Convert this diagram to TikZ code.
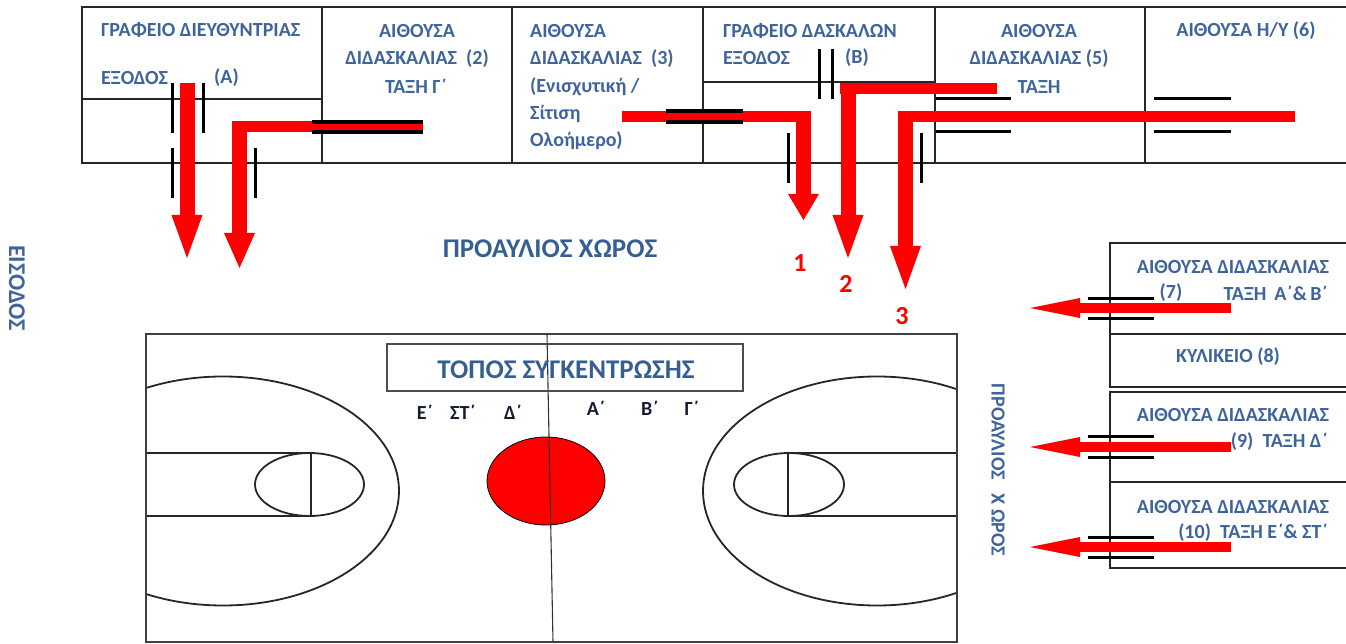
\documentclass[tikz,border=0pt]{standalone}
\usepackage{fontspec}
\setmainfont{Carlito}
\usetikzlibrary{arrows.meta}
\definecolor{labelblue}{RGB}{62,100,155}
\definecolor{headblue}{RGB}{54,95,145}
\definecolor{teamblack}{RGB}{20,30,50}
\tikzset{
	wall/.style={draw=black!85,line width=2pt},
	doorline/.style={black,line width=3pt},
	heavydoor/.style={black,line width=3.6pt},
	courtline/.style={draw=black!85,line width=1.8pt},
	roomtext/.style={inner sep=0pt,text=labelblue,font=\bfseries\fontsize{20}{22}\selectfont},
	bigtext/.style={inner sep=0pt,text=headblue,font=\bfseries\fontsize{27}{29}\selectfont},
	sidetext/.style={inner sep=0pt,text=labelblue,font=\bfseries\fontsize{24}{26}\selectfont},
	teamtext/.style={inner sep=0pt,text=teamblack,font=\bfseries\fontsize{20}{22}\selectfont},
	numtext/.style={inner sep=0pt,text=red,font=\bfseries\fontsize{26}{28}\selectfont},
	redbar/.style={red,line width=11pt},
	exitarrow/.style={red,line width=15pt,-{Triangle[length=#1,width=31pt,line width=0pt]}},
	exitarrow/.default=43pt,
	sidearrow/.style={red,line width=10pt,-{Triangle[length=50pt,width=20pt,line width=0pt]}},
}
\begin{document}
\begin{tikzpicture}[x=1pt,y=-1pt]
	\useasboundingbox (0,0) rectangle (1346,644);

	% top row of rooms
	\draw[wall] (1346,7) -- (82,7) -- (82,163) -- (1346,163);
	\draw[wall] (322,7) -- (322,163);
	\draw[wall] (512,7) -- (512,163);
	\draw[wall] (703,7) -- (703,163);
	\draw[wall] (935,7) -- (935,163);
	\draw[wall] (1145,7) -- (1145,163);
	\draw[wall] (82,99) -- (322,99);
	\draw[wall] (703,82) -- (935,82);

	% rooms on the right
	\draw[wall] (1346,243) -- (1110,243) -- (1110,387) -- (1346,387);
	\draw[wall] (1110,334) -- (1346,334);
	\draw[wall] (1346,392) -- (1110,392) -- (1110,568) -- (1346,568);
	\draw[wall] (1110,482) -- (1346,482);

	% court
	\begin{scope}
		\clip (146,334) rectangle (957,642);
		\draw[courtline] (223,491) ellipse [x radius=176,y radius=114.5];
		\draw[courtline] (877,491) ellipse [x radius=174,y radius=114.5];
	\end{scope}
	\draw[courtline] (146,453) -- (311,453) -- (311,516) -- (146,516);
	\draw[courtline] (309.5,484.5) ellipse [x radius=54.5,y radius=31.5];
	\draw[courtline] (957,453) -- (788,453) -- (788,516) -- (957,516);
	\draw[courtline] (789,484.5) ellipse [x radius=55,y radius=31.5];
	\draw[draw=black,fill=red,line width=0.8pt] (546,481) ellipse [x radius=59,y radius=44];
	\draw[draw=black!80,line width=1.1pt] (547,334) -- (553,642);
	\draw[draw=black!75,line width=2.2pt] (146,334) rectangle (957,642);
	\node[draw=black!70,line width=2.2pt,minimum width=356pt,minimum height=47pt,inner sep=0pt] (titlebox) at (565,367.5) {};

	% ends of the red routes
	\coordinate (startA) at (187,83);
	\coordinate (tipA) at (187,258);
	\coordinate (startC) at (423,127);
	\coordinate (bendC) at (232,127);
	\coordinate (topC) at (239.5,122);
	\coordinate (tipC) at (239.5,268);
	\coordinate (startR) at (622,116.5);
	\coordinate (bendR) at (796,116.5);
	\coordinate (topR) at (803.5,111);
	\coordinate (tipR) at (803.5,220);
	\coordinate (startT) at (997,88.5);
	\coordinate (bendT) at (840,88.5);
	\coordinate (topT) at (848,83);
	\coordinate (tipT) at (848,258);
	\coordinate (startH) at (1295,116.5);
	\coordinate (bendH) at (898,116.5);
	\coordinate (topH) at (905.5,111);
	\coordinate (tipH) at (905.5,289);
	\coordinate (startS) at (1231,308);
	\coordinate (tipS) at (1030,308);
	\coordinate (startN) at (1231,447);
	\coordinate (tipN) at (1030,447);
	\coordinate (startE) at (1231,547);
	\coordinate (tipE) at (1030,547);

	\path[exitarrow] (startA) edge (tipA);
	\path[redbar] (startC) edge (bendC);
	\path[exitarrow=35pt] (topC) edge (tipC);
	\path[redbar] (startR) edge (bendR);
	\path[exitarrow=26pt] (topR) edge (tipR);
	\path[redbar] (startT) edge (bendT);
	\path[exitarrow] (topT) edge (tipT);
	\path[redbar] (startH) edge (bendH);
	\path[exitarrow] (topH) edge (tipH);
	\path[sidearrow] (startS) edge (tipS);
	\path[sidearrow] (startN) edge (tipN);
	\path[sidearrow] (startE) edge (tipE);

	% door frames
	\draw[doorline] (172,83) -- (172,133);
	\draw[doorline] (203,83) -- (203,133);
	\draw[doorline] (172,148) -- (172,198);
	\draw[doorline] (255,148) -- (255,198);
	\draw[heavydoor] (312,122) -- (423,122);
	\draw[heavydoor] (312,132) -- (423,132);
	\draw[heavydoor] (666,111) -- (743,111);
	\draw[heavydoor] (666,122) -- (743,122);
	\draw[doorline] (819,49) -- (819,99);
	\draw[doorline] (832,49) -- (832,99);
	\draw[doorline] (788,133) -- (788,183);
	\draw[doorline] (921,133) -- (921,183);
	\draw[doorline] (936,99) -- (1011,99);
	\draw[doorline] (936,132) -- (1011,132);
	\draw[doorline] (1154,99) -- (1231,99);
	\draw[doorline] (1154,132) -- (1231,132);
	\draw[doorline] (1088,298) -- (1154,298);
	\draw[doorline] (1088,318) -- (1154,318);
	\draw[doorline] (1088,436) -- (1154,436);
	\draw[doorline] (1088,457) -- (1154,457);
	\draw[doorline] (1088,537) -- (1154,537);
	\draw[doorline] (1088,557) -- (1154,557);

	% room labels
	\node[roomtext,anchor=west] (officeA) at (101,30) {ΓΡΑΦΕΙΟ ΔΙΕΥΘΥΝΤΡΙΑΣ};
	\node[roomtext,anchor=west] (exitA) at (101,78) {ΕΞΟΔΟΣ};
	\node[roomtext,anchor=west] (markA) at (214,78) {(Α)};
	\node[roomtext] (roomBa) at (417,31) {ΑΙΘΟΥΣΑ};
	\node[roomtext] (roomBb) at (417,59) {ΔΙΔΑΣΚΑΛΙΑΣ\ \ (2)};
	\node[roomtext] (roomBc) at (416,86) {ΤΑΞΗ Γ΄};
	\node[roomtext,anchor=west] (roomCa) at (530,31) {ΑΙΘΟΥΣΑ};
	\node[roomtext,anchor=west] (roomCb) at (530,59) {ΔΙΔΑΣΚΑΛΙΑΣ\ \ (3)};
	\node[roomtext,anchor=west] (roomCc) at (530,87) {(Ενισχυτική /};
	\node[roomtext,anchor=west] (roomCd) at (530,114) {Σίτιση};
	\node[roomtext,anchor=west] (roomCe) at (530,141) {Ολοήμερο)};
	\node[roomtext,anchor=west] (officeB) at (723,31) {ΓΡΑΦΕΙΟ ΔΑΣΚΑΛΩΝ};
	\node[roomtext,anchor=west] (exitB) at (723,58) {ΕΞΟΔΟΣ};
	\node[roomtext,anchor=west] (markB) at (845,58) {(Β)};
	\node[roomtext] (roomEa) at (1039,31) {ΑΙΘΟΥΣΑ};
	\node[roomtext] (roomEb) at (1039,59) {ΔΙΔΑΣΚΑΛΙΑΣ (5)};
	\node[roomtext] (roomEc) at (1039,87) {ΤΑΞΗ};
	\node[roomtext] (roomF) at (1246,31) {ΑΙΘΟΥΣΑ Η/Υ (6)};
	\node[roomtext] (roomGa) at (1233,267) {ΑΙΘΟΥΣΑ ΔΙΔΑΣΚΑΛΙΑΣ};
	\node[roomtext] (roomGb) at (1171,293) {(7)};
	\node[roomtext,anchor=east] (roomGc) at (1328,293) {ΤΑΞΗ\ \,Α΄\&\,Β΄};
	\node[roomtext] (canteen) at (1228,357) {ΚΥΛΙΚΕΙΟ (8)};
	\node[roomtext] (roomHa) at (1233,415) {ΑΙΘΟΥΣΑ ΔΙΔΑΣΚΑΛΙΑΣ};
	\node[roomtext,anchor=east] (roomHb) at (1328,442) {(9)\ \ ΤΑΞΗ Δ΄};
	\node[roomtext] (roomJa) at (1233,507) {ΑΙΘΟΥΣΑ ΔΙΔΑΣΚΑΛΙΑΣ};
	\node[roomtext,anchor=east] (roomJb) at (1328,533) {(10)\ \ ΤΑΞΗ Ε΄\& ΣΤ΄};

	% yard labels
	\node[bigtext] (yard) at (550,249) {ΠΡΟΑΥΛΙΟΣ ΧΩΡΟΣ};
	\node[bigtext] (title) at (566,370) {ΤΟΠΟΣ ΣΥΓΚΕΝΤΡΩΣΗΣ};
	\node[roomtext,rotate=-90] (yardside) at (998,470) {ΠΡΟΑΥΛΙΟΣ\ \ \ Χ\ ΩΡΟΣ};
	\node[sidetext,rotate=-90] (entrance) at (17,288) {ΕΙΣΟΔΟΣ};

	% classes on the court
	\node[teamtext] (classE) at (425,412) {Ε΄};
	\node[teamtext] (classS) at (463,412) {ΣΤ΄};
	\node[teamtext] (classD) at (513,412) {Δ΄};
	\node[teamtext] (classA) at (596,408) {Α΄};
	\node[teamtext] (classB) at (650,408) {Β΄};
	\node[teamtext] (classG) at (692,408) {Γ΄};

	% route numbers
	\node[numtext] (numOne) at (800,263) {1};
	\node[numtext] (numTwo) at (846,284) {2};
	\node[numtext] (numThree) at (902,316) {3};
\end{tikzpicture}
\end{document}
